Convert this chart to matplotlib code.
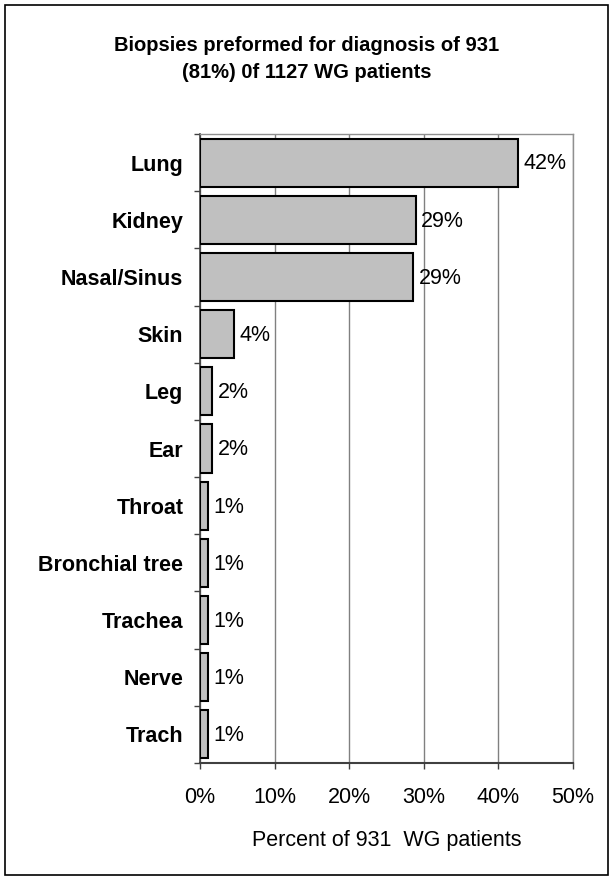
import numpy as np
import matplotlib.pyplot as plt

# Data (percent of 931 WG patients)
sites = ["Lung", "Kidney", "Nasal/Sinus", "Skin", "Leg", "Ear", "Throat",
         "Bronchial tree", "Trachea", "Nerve", "Trach"]
percents = [42.6, 28.9, 28.6, 4.5, 1.6, 1.6, 1.1, 1.1, 1.1, 1.1, 1.1]
labels = ["42%", "29%", "29%", "4%", "2%", "2%", "1%", "1%", "1%", "1%", "1%"]
x_ticks = [0, 10, 20, 30, 40, 50]

plt.rcParams["font.family"] = ["Liberation Sans", "DejaVu Sans"]

fig = plt.figure(figsize=(6.13, 8.8), dpi=100)
ax = fig.add_axes([200 / 613, 1 - 763 / 880, 373 / 613, 629 / 880])

y = np.arange(len(sites))
ax.barh(y, percents, height=0.84, color="#c0c0c0", edgecolor="black",
        linewidth=1.5, zorder=3)

# value labels
for yi, val, lab in zip(y, percents, labels):
    ax.annotate(lab, (val, yi), xytext=(4, -1), textcoords="offset points",
                va="center", ha="left", fontsize=15.5, zorder=4)

ax.set_xlim(0, 50)
ax.set_ylim(len(sites) - 0.5, -0.5)
ax.set_xticks(x_ticks)
ax.set_xticklabels([f"{t}%" for t in x_ticks], fontsize=15.5)
ax.tick_params(axis="x", length=4, width=1, color="#404040", pad=13)

ax.set_yticks(y)
ax.set_yticklabels(sites, fontsize=15.5, fontweight="bold")
ax.tick_params(axis="y", length=0, pad=12)
ax.set_yticks(np.arange(-0.5, len(sites), 1), minor=True)
ax.tick_params(axis="y", which="minor", length=4, width=1, color="#404040")

ax.grid(axis="x", color="#808080", linewidth=1, zorder=0)
for side in ["top", "right"]:
    ax.spines[side].set_color("#909090")
    ax.spines[side].set_linewidth(1)
ax.spines["left"].set_color("#404040")
ax.spines["bottom"].set_color("#404040")
ax.spines["left"].set_linewidth(1.2)
ax.spines["bottom"].set_linewidth(1.5)

ax.set_xlabel("Percent of 931  WG patients", fontsize=15.5, labelpad=16)

fig.text(0.5, 1 - 59 / 880, "Biopsies preformed for diagnosis of 931\n(81%) 0f 1127 WG patients",
         ha="center", va="center", fontsize=14.5, fontweight="bold", linespacing=1.5)

# outer frame
frame = plt.Rectangle((5 / 613, 5 / 880), 603 / 613, 870 / 880, transform=fig.transFigure,
                      fill=False, edgecolor="black", linewidth=1.2)
fig.patches.append(frame)

fig.savefig("out.png", dpi=100)
